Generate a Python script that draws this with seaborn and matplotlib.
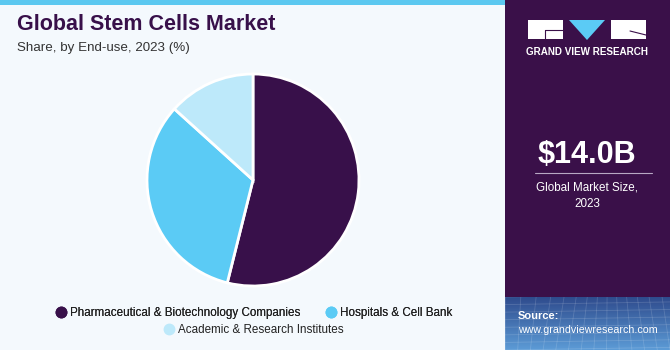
import matplotlib
matplotlib.use("Agg")
import matplotlib.pyplot as plt
import matplotlib.patches as mpatches
import numpy as np
import seaborn as sns

categories = ["Pharmaceutical & Biotechnology Companies", "Hospitals & Cell Bank", "Academic & Research Institutes"]
shares = [53.9, 32.8, 13.3]
colors = ["#38104A", "#5BCBF5", "#BDE9FA"]
market_size = "$14.0B"
market_label = "Global Market Size,\n2023"

sns.set_theme(style="white")
plt.rcParams['font.family'] = ['Liberation Sans', 'DejaVu Sans']
palette = sns.color_palette(colors)

W, H = 670, 350
fig = plt.figure(figsize=(6.7, 3.5), dpi=100)
fig.patch.set_facecolor("#F4F9FD")

def px(x, y, w, h):
    return [x / W, 1 - (y + h) / H, w / W, h / H]

# top stripe
fig.add_artist(mpatches.Rectangle((0, 1 - 5 / H), 505 / W, 5 / H, transform=fig.transFigure,
                                  color="#5BC8F0", lw=0, zorder=-1))
# right panel
fig.add_artist(mpatches.Rectangle((505 / W, 0), 165 / W, 1, transform=fig.transFigure,
                                  color="#3A1049", lw=0, zorder=-1))
# source gradient
gax = fig.add_axes(px(505, 297, 165, 53))
gax.set_zorder(1)
grad = np.linspace(0, 1, 100)[:, None] * np.ones((1, 50))
cmap = matplotlib.colors.LinearSegmentedColormap.from_list("g", ["#2E4A8C", "#5C9BD6"])
gax.imshow(grad, aspect="auto", cmap=cmap, extent=[0, 1, 0, 1], origin="upper")
for t in np.linspace(0, 1, 14):
    gax.plot([t, t + 0.05 * np.sin(t * 5)], [0, 1], color="white", alpha=0.15, lw=0.6)
for t in np.linspace(0, 1, 8):
    gax.plot([0, 1], [t, t + 0.05], color="white", alpha=0.15, lw=0.6)
gax.set_xlim(0, 1); gax.set_ylim(0, 1)
gax.axis("off")

# logo
def frect(x, y, w, h, c):
    fig.add_artist(mpatches.Rectangle((x / W, 1 - (y + h) / H), w / W, h / H,
                                      transform=fig.transFigure, color=c, lw=0))
frect(528, 20, 35, 19, "white")
frect(611, 20, 35, 19, "white")
fig.add_artist(mpatches.Polygon([(569 / W, 1 - 20 / H), (605 / W, 1 - 20 / H), (587 / W, 1 - 40 / H)],
                                transform=fig.transFigure, color="#5BCBF5", lw=0))
fig.add_artist(matplotlib.lines.Line2D([545 / W, 563 / W], [1 - 30 / H, 1 - 30 / H],
                                       transform=fig.transFigure, color="#3A1049", lw=0.8))
fig.add_artist(matplotlib.lines.Line2D([545 / W, 545 / W], [1 - 30 / H, 1 - 39 / H],
                                       transform=fig.transFigure, color="#3A1049", lw=0.8))
fig.add_artist(matplotlib.lines.Line2D([630 / W, 646 / W], [1 - 31 / H, 1 - 35 / H],
                                       transform=fig.transFigure, color="#3A1049", lw=0.8))
fig.text(587 / W, 1 - 52 / H, "GRAND VIEW RESEARCH", color="white", fontsize=7.1,
         fontweight="bold", ha="center", va="center")

# market size
fig.text(587 / W, 1 - 155 / H, market_size, color="white", fontsize=22, fontweight="bold",
         ha="center", va="center")
fig.add_artist(matplotlib.lines.Line2D([535 / W, 652 / W], [1 - 173 / H, 1 - 173 / H],
                                       transform=fig.transFigure, color="#B8A8C4", lw=0.8))
fig.text(587 / W, 1 - 195.5 / H, market_label, color="white", fontsize=8.4, ha="center",
         va="center", linespacing=1.55)

# source
fig.text(518 / W, 1 - 316 / H, "Source:", color="white", fontsize=8, fontweight="bold",
         ha="left", va="center", zorder=3)
fig.text(518 / W, 1 - 330 / H, "www.grandviewresearch.com", color="white", fontsize=7.7,
         ha="left", va="center", zorder=3)

# titles
fig.text(17 / W, 1 - 25 / H, "Global Stem Cells Market", color="#38104A", fontsize=15.5,
         fontweight="bold", ha="left", va="center")
fig.text(17 / W, 1 - 48 / H, "Share, by End-use, 2023 (%)", color="#333333", fontsize=9.6,
         ha="left", va="center")

# pie
cx, cy, r = 253, 180, 106
ax = fig.add_axes(px(cx - r, cy - r, 2 * r, 2 * r))
ax.pie(shares, colors=palette, startangle=90, counterclock=False,
       wedgeprops=dict(edgecolor="white", linewidth=2))
ax.set_xlim(-1.0, 1.0); ax.set_ylim(-1.0, 1.0)
ax.set_aspect("equal")
ax.axis("off")

# legend
handles = [matplotlib.lines.Line2D([], [], marker="o", ls="", color=c, markersize=7.5) for c in colors]
leg1 = fig.legend(handles[:2], categories[:2], loc="center", bbox_to_anchor=(253 / W, 1 - 313 / H),
                  ncol=2, frameon=False, fontsize=8.4, handletextpad=0.2, columnspacing=2.0,
                  borderpad=0, handlelength=1.2)
fig.add_artist(leg1)
leg2 = fig.legend(handles[2:], categories[2:], loc="center", bbox_to_anchor=(253 / W, 1 - 330 / H),
                  ncol=1, frameon=False, fontsize=8.4, handletextpad=0.2, borderpad=0,
                  handlelength=1.2)
for leg in (leg1, leg2):
    for t in leg.get_texts():
        t.set_color("#222222")

fig.savefig("out.png", dpi=100, facecolor=fig.get_facecolor())
